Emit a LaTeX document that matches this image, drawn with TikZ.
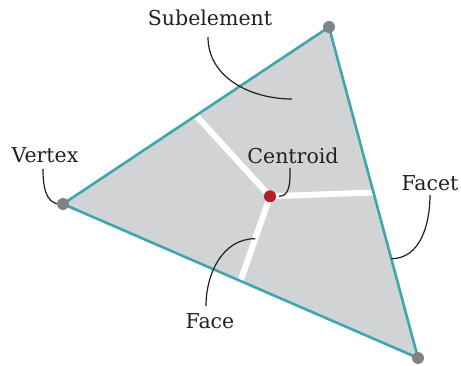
\documentclass[tikz,border=0pt]{standalone}
\usepackage{fontspec}
\setmainfont{DejaVu Serif}
\usetikzlibrary{calc}
\definecolor{Ink}{HTML}{231F20}
\definecolor{Edge}{HTML}{3FA6AE}
\definecolor{Cell}{HTML}{D1D3D4}
\definecolor{Dot}{HTML}{808285}
\definecolor{Mark}{HTML}{B51F28}
\tikzset{
  lbl/.style={font=\fontsize{20.5}{24}\selectfont,text=Ink,inner sep=0pt},
  lead/.style={Ink,line width=1.2pt}
}

\begin{document}
\begin{tikzpicture}[x=1pt,y=-1pt]
\useasboundingbox (0,0) rectangle (461,366);
% triangle corners and centroid
\coordinate (V1) at (63,204);
\coordinate (V2) at (329,27);
\coordinate (V3) at (418,358);
\coordinate (C) at ($1/3*(V1)+1/3*(V2)+1/3*(V3)$);
\fill[Cell] (V1) -- (V2) -- (V3) -- cycle;
\foreach \a/\b in {V1/V2,V2/V3,V3/V1} {
  \coordinate (M\a) at ($(\a)!0.5!(\b)$);
  \draw[white,line width=6pt] (C) -- (M\a);
}
\draw[Edge,line width=2.6pt,line join=round] (V1) -- (V2) -- (V3) -- cycle;
% labels
\node[lbl] (sub) at (210,18) {Subelement};
\node[lbl] (ver) at (45,155) {Vertex};
\node[lbl] (cen) at (293,156) {Centroid};
\node[lbl] (fct) at (430,183) {Facet};
\node[lbl] (fac) at (210,321) {Face};
\coordinate (subEnd) at (292,99);
\coordinate (fctEnd) at ($(V2)!0.7!(V3)$);
\coordinate (facEnd) at ($(C)!0.5!(MV3)$);
% leaders
\draw[lead] ([shift={(-2,19)}]sub.center) to[out=-90,in=180] (subEnd);
\draw[lead] ([shift={(-2,14)}]ver.center) to[out=-90,in=180] ([xshift=-3pt]V1);
\draw[lead] ([shift={(-3,12)}]cen.center) to[out=-90,in=0] ([xshift=9pt]C);
\draw[lead] ([shift={(0,12)}]fct.center) to[out=-90,in=0] (fctEnd);
\draw[lead] ([shift={(-4,-15)}]fac.center) to[out=90,in=180] (facEnd);
% dots
\foreach \v in {V1,V2,V3}
  \fill[Dot] (\v) circle (6);
\fill[Mark] (C) circle (6);
\end{tikzpicture}
\end{document}
